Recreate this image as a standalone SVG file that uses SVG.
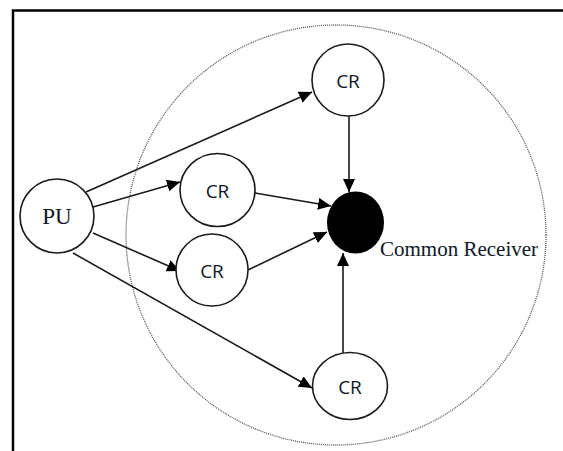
<svg xmlns="http://www.w3.org/2000/svg" width="563" height="451" viewBox="0 0 563 451">
<style>
.node{fill:#fff;stroke:#1a1a1a;stroke-width:1.6}
.cr{font-family:"Open Sans","Liberation Sans",Arial,sans-serif;font-size:19px;fill:#101828;text-anchor:middle}
.edge{stroke:#1a1a1a;stroke-width:1.6;fill:none;marker-end:url(#arr)}
</style>
<defs>
<marker id="arr" markerUnits="userSpaceOnUse" markerWidth="14" markerHeight="12" refX="13" refY="6" orient="auto">
<path d="M0,0 L13,6 L0,12 Z" fill="#000"/>
</marker>
</defs>
<rect width="563" height="451" fill="#fff"/>
<g id="frame" fill="none" stroke="#000" stroke-width="2.5">
<path d="M13,451 V10.5 H563"/>
</g>
<g id="range">
<circle cx="336" cy="235" r="210" fill="none" stroke="#555" stroke-width="1.3" stroke-dasharray="1 1"/>
</g>
<g id="connectors">
<line class="edge" x1="86" y1="192" x2="312" y2="92"/>
<line class="edge" x1="93" y1="207" x2="180" y2="182"/>
<line class="edge" x1="93" y1="233" x2="180" y2="271"/>
<line class="edge" x1="73" y1="253" x2="312" y2="388"/>
<line class="edge" x1="349" y1="116" x2="349" y2="192"/>
<line class="edge" x1="255" y1="193" x2="331" y2="206"/>
<line class="edge" x1="248" y1="270" x2="327" y2="232"/>
<line class="edge" x1="343" y1="353" x2="343" y2="253"/>
</g>
<g id="pu">
<circle class="node" cx="57" cy="216" r="37"/>
<text x="57" y="224" font-family="'Liberation Serif','Times New Roman',serif" font-size="23" fill="#101828" text-anchor="middle">PU</text>
</g>
<g id="cr-top">
<ellipse class="node" cx="348" cy="80" rx="36" ry="36"/>
<text class="cr" x="348" y="88">CR</text>
</g>
<g id="cr-upper">
<ellipse class="node" cx="217.5" cy="190" rx="37.5" ry="36.5"/>
<text class="cr" x="217.5" y="198">CR</text>
</g>
<g id="cr-lower">
<ellipse class="node" cx="212" cy="270" rx="36" ry="36"/>
<text class="cr" x="212" y="278">CR</text>
</g>
<g id="cr-bottom">
<ellipse class="node" cx="350" cy="386" rx="37.5" ry="33.5"/>
<text class="cr" x="350" y="394">CR</text>
</g>
<g id="receiver">
<ellipse cx="355.5" cy="222.5" rx="28.5" ry="31" fill="#000"/>
<text x="380" y="256" font-family="'Liberation Serif','Times New Roman',serif" font-size="21" fill="#101828">Common Receiver</text>
</g>
</svg>
